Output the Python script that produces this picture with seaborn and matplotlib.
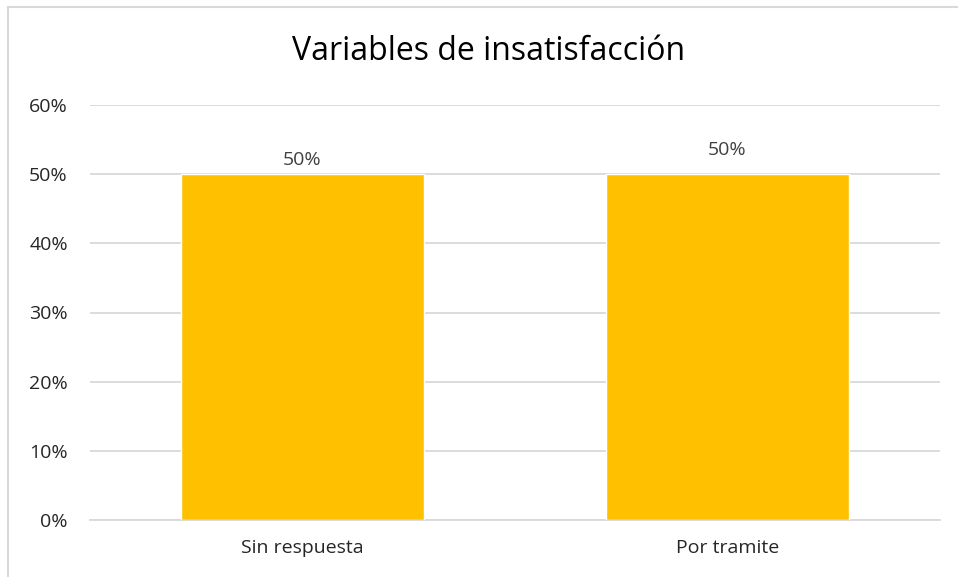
import matplotlib
matplotlib.use('Agg')
import matplotlib.pyplot as plt
from matplotlib.patches import Rectangle
from matplotlib.ticker import PercentFormatter
import seaborn as sns
import pandas as pd

# data
categories = ['Sin respuesta', 'Por tramite']
values = [0.50, 0.50]
label_pads = [4, 11]  # data labels sit at slightly different heights in the original
title = 'Variables de insatisfacción'

df = pd.DataFrame({'cat': categories, 'val': values})

sns.set_style('white')
plt.rcParams['font.family'] = ['Open Sans', 'DejaVu Sans']

fig = plt.figure(figsize=(9.58, 5.77), dpi=100)
ax = fig.add_axes([90 / 958, 1 - 520 / 577, 850 / 958, 415 / 577])

sns.barplot(data=df, x='cat', y='val', color='#FFC000', width=0.57,
            saturation=1, ax=ax, zorder=3)

ax.set_ylim(0, 0.6)
ax.set_yticks([0, 0.1, 0.2, 0.3, 0.4, 0.5, 0.6])
ax.yaxis.set_major_formatter(PercentFormatter(1.0, decimals=0))
ax.grid(axis='y', color='#d9d9d9', linewidth=1.3, zorder=0)
for s in ['top', 'right', 'left']:
    ax.spines[s].set_visible(False)
ax.spines['bottom'].set_color('#d9d9d9')
ax.spines['bottom'].set_linewidth(1.3)
ax.tick_params(axis='y', length=0, pad=16, labelsize=14, labelcolor='#262626')
ax.tick_params(axis='x', length=0, pad=14, labelsize=14, labelcolor='#262626')
ax.set_xlabel('')
ax.set_ylabel('')

for bar, v, p in zip(ax.patches, values, label_pads):
    ax.annotate(f'{v:.0%}', (bar.get_x() + bar.get_width() / 2, v),
                xytext=(0, p), textcoords='offset points',
                ha='center', va='bottom', fontsize=14, color='#404040')

fig.text(489 / 958, 1 - 52 / 577, title, ha='center', va='center',
         fontsize=23, color='#000000')

# chart frame, cut off at right and bottom like the screenshot
fig.patches.append(Rectangle((8 / 958, -0.05), 1.1, 1.05 - 7 / 577,
                             transform=fig.transFigure, fill=False,
                             edgecolor='#d9d9d9', linewidth=1.5))

fig.savefig('out.png', dpi=100)
